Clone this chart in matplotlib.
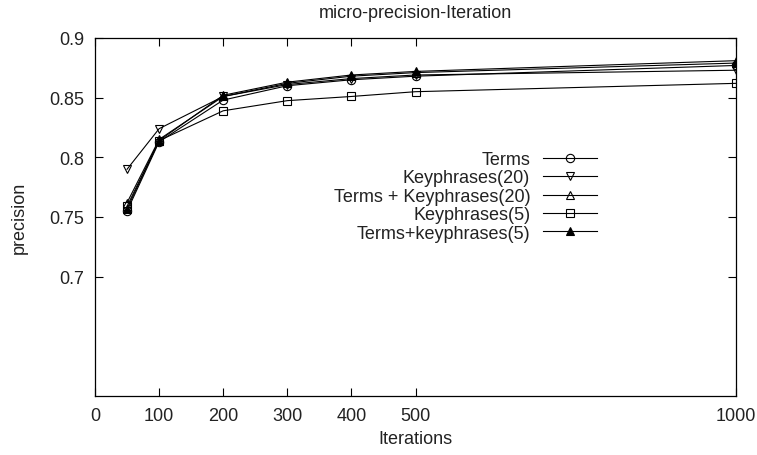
import matplotlib.pyplot as plt
from matplotlib.ticker import FormatStrFormatter

plt.rcParams['font.family'] = ['Liberation Sans', 'DejaVu Sans']

iterations = [50, 100, 200, 300, 400, 500, 1000]
terms = [0.755, 0.813, 0.848, 0.860, 0.865, 0.868, 0.877]
keyphrases20 = [0.790, 0.824, 0.851, 0.861, 0.866, 0.869, 0.873]
terms_kp20 = [0.762, 0.815, 0.851, 0.862, 0.868, 0.871, 0.879]
keyphrases5 = [0.759, 0.814, 0.839, 0.8475, 0.851, 0.855, 0.862]
terms_kp5 = [0.757, 0.814, 0.852, 0.863, 0.869, 0.872, 0.881]

x_ticks = [0, 100, 200, 300, 400, 500, 1000]
y_ticks = [0.7, 0.75, 0.8, 0.85, 0.9]

series = [
    ('Terms', terms, 'o', 'none'),
    ('Keyphrases(20)', keyphrases20, 'v', 'none'),
    ('Terms + Keyphrases(20)', terms_kp20, '^', 'none'),
    ('Keyphrases(5)', keyphrases5, 's', 'none'),
    ('Terms+keyphrases(5)', terms_kp5, '^', 'black'),
]

fig = plt.figure(figsize=(7.57, 4.56), dpi=100)
ax = fig.add_axes([95 / 757, 1 - 397 / 456, (736 - 95) / 757, (397 - 39) / 456])

for label, vals, marker, fc in series:
    ax.plot(iterations, vals, color='black', lw=0.8, marker=marker,
            markersize=6, markerfacecolor=fc, markeredgecolor='black',
            markeredgewidth=0.8, label=label)

ax.set_xlim(0, 1000)
ax.set_ylim(0.6, 0.9)
ax.set_xticks(x_ticks)
ax.set_yticks(y_ticks)
ax.yaxis.set_major_formatter(FormatStrFormatter('%g'))
ax.tick_params(direction='in', length=6, width=0.8, top=True, right=True,
               labelsize=13, colors='black', labelcolor='#222222', pad=8)
for sp in ax.spines.values():
    sp.set_linewidth(0.9)

ax.set_title('micro-precision-Iteration', fontsize=13, color='#222222', pad=15)
ax.set_xlabel('Iterations', fontsize=13, color='#222222', labelpad=4)
ax.set_ylabel('precision', fontsize=13, color='#222222', labelpad=15)

ax.legend(loc='upper right', bbox_to_anchor=(597 / 757, 1 - 152 / 456),
          bbox_transform=fig.transFigure, frameon=False, markerfirst=False,
          fontsize=13, handlelength=3.0, handletextpad=0.7, labelspacing=0.08,
          borderpad=0, borderaxespad=0, labelcolor='#222222')

plt.savefig('out.png', dpi=100)
plt.close()
